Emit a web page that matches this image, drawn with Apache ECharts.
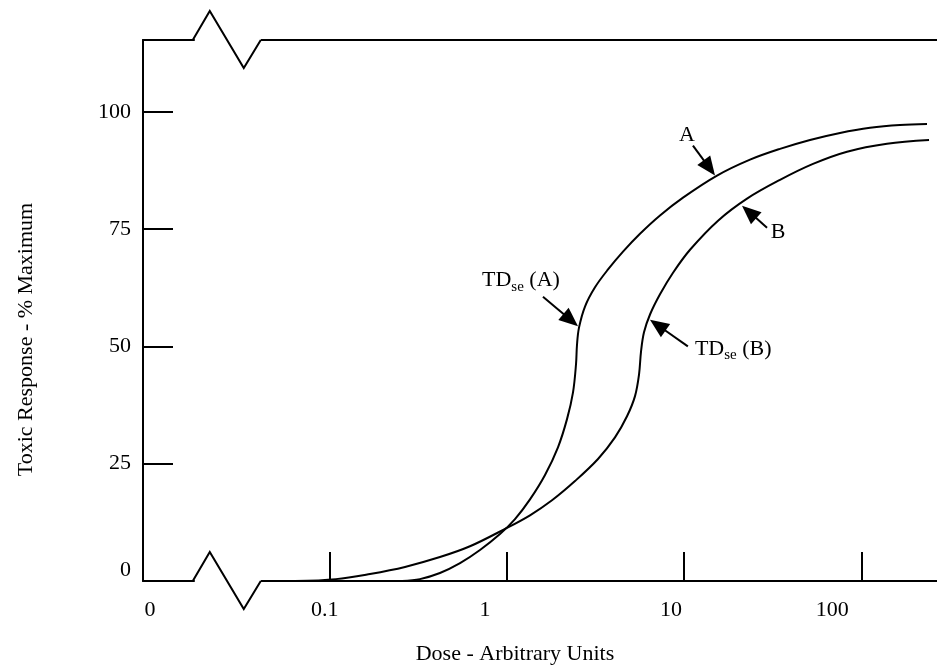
<!DOCTYPE html>
<html><head><meta charset="utf-8">
<script src="https://cdn.jsdelivr.net/npm/echarts@6/dist/echarts.min.js"></script>
<style>html,body{margin:0;padding:0;background:#fff}#c{width:937px;height:670px}</style>
</head><body><div id="c"></div>
<script>
// ---- data ----
const doseA = [0.256,0.323,0.419,0.544,0.705,0.914,1.111,1.35,1.641,1.942,2.184,2.361,2.455,2.487,2.552,2.759,3.142,3.721,4.521,5.638,7.311,9.86,15.34,23.55,34.77,51.34,75.83,112.0,165.3,234.9];
const respA = [0,0.4,1.7,3.8,6.6,10.0,13.2,17.4,22.6,28.5,34.5,40.2,46.2,50.4,54.0,58.5,62.6,66.4,70.2,74.0,77.9,81.7,86.4,89.8,92.1,94.0,95.5,96.6,97.2,97.4];
const doseB = [0.0637,0.1085,0.1688,0.266,0.419,0.619,0.976,1.35,1.797,2.423,3.267,4.074,4.762,5.284,5.567,5.713,5.938,6.421,7.311,8.659,10.8,15.54,22.65,34.77,53.4,83.07,139.6,241.1];
const respB = [0,0.4,1.5,3.0,5.1,7.4,11.1,14.0,17.2,21.3,26.0,30.6,35.1,39.4,44.0,48.9,53.0,56.8,61.1,65.7,70.6,76.8,81.5,85.5,88.9,91.5,93.2,94.0];
const xTickValues = [0.1, 1, 10, 100];
const xTickLabels = ['0.1', '1', '10', '100'];
const yTickValues = [0, 25, 50, 75, 100];
const xMin = 0.00884, xMax = 267.4, yMax = 115.3;
const breakDose = 0.0171;
// annotations: label position, arrow tail, arrow tip (dose, response)
const annLabels = ['A', 'B', 'TD(A)', 'TD(B)'];
const annLabelPos = [[10.38, 95.1], [33.88, 74.3], [0.7236, 64.0], [11.51, 49.4]];
const annTail = [[11.22, 92.8], [29.37, 75.3], [1.598, 60.6], [10.50, 50.0]];
const annTip = [[14.94, 86.4], [21.22, 80.0], [2.519, 54.3], [6.42, 55.7]];

const FONT = "'Liberation Serif','Times New Roman',serif";
const chart = echarts.init(document.getElementById('c'), null, {renderer: 'canvas'});
const zip = (xs, ys) => xs.map((x, i) => [x, ys[i]]);

const labelRich = {
  z: {fontFamily: FONT, fontSize: 22, color: '#000', padding: [0, 0, 0, 14]},
  a: {fontFamily: FONT, fontSize: 22, color: '#000', padding: [0, 10, 0, 0]},
  b: {fontFamily: FONT, fontSize: 22, color: '#000', padding: [0, 44, 0, 0]},
  c: {fontFamily: FONT, fontSize: 22, color: '#000', padding: [0, 26, 0, 0]},
  d: {fontFamily: FONT, fontSize: 22, color: '#000', padding: [0, 58, 0, 0]}
};
const styleKeys = ['a', 'b', 'c', 'd'];

chart.setOption({
  animation: false,
  backgroundColor: '#fff',
  grid: {left: 143, right: 0, top: 40, bottom: 88},
  xAxis: [{
    type: 'log', min: xMin, max: xMax, position: 'bottom',
    name: 'Dose - Arbitrary Units', nameLocation: 'middle', nameGap: 62,
    nameTextStyle: {fontFamily: FONT, fontSize: 22, color: '#000', padding: [0, 50, 0, 0]},
    axisLine: {show: true, lineStyle: {color: '#000', width: 2}},
    axisTick: {show: true, inside: true, length: 29, lineStyle: {color: '#000', width: 2}, customValues: xTickValues},
    axisLabel: {
      show: true, margin: 18, customValues: [xMin].concat(xTickValues),
      formatter: function (v) {
        if (v < 0.05) return '{z|0}';
        for (let i = 0; i < xTickValues.length; i++) {
          if (Math.abs(v - xTickValues[i]) / xTickValues[i] < 1e-6) return '{' + styleKeys[i] + '|' + xTickLabels[i] + '}';
        }
        return '';
      },
      rich: labelRich
    },
    splitLine: {show: false}
  }, {
    type: 'log', min: xMin, max: xMax, position: 'top',
    axisLine: {show: true, lineStyle: {color: '#000', width: 2}},
    axisTick: {show: false}, axisLabel: {show: false}, splitLine: {show: false}
  }],
  yAxis: {
    type: 'value', min: 0, max: yMax,
    name: 'Toxic Response - % Maximum', nameLocation: 'middle', nameGap: 106,
    nameTextStyle: {fontFamily: FONT, fontSize: 22, color: '#000', padding: [0, 58, 0, 0]},
    axisLine: {show: true, lineStyle: {color: '#000', width: 2}},
    axisTick: {show: true, inside: true, length: 30, lineStyle: {color: '#000', width: 2}, customValues: yTickValues},
    axisLabel: {
      show: true, margin: 12, customValues: yTickValues,
      formatter: function (v) { return v === 0 ? '{z|0}' : '{n|' + v + '}'; },
      rich: {
        z: {fontFamily: FONT, fontSize: 22, color: '#000', padding: [0, 0, 22, 0]},
        n: {fontFamily: FONT, fontSize: 22, color: '#000'}
      }
    },
    splitLine: {show: false}
  },
  series: [{
    name: 'A', type: 'line', data: zip(doseA, respA), showSymbol: false, smooth: 0.35,
    lineStyle: {color: '#000', width: 2}, z: 3
  }, {
    name: 'B', type: 'line', data: zip(doseB, respB), showSymbol: false, smooth: 0.35,
    lineStyle: {color: '#000', width: 2}, z: 3
  }]
});

// ---- decorations: axis breaks, arrows and labels ----
function px(p) { return chart.convertToPixel({xAxisIndex: 0, yAxisIndex: 0}, p); }
function arrow(t, p) {
  const dx = p[0] - t[0], dy = p[1] - t[1], L = Math.hypot(dx, dy), ux = dx / L, uy = dy / L;
  const hl = 19, hw = 8;
  const bx = p[0] - ux * hl, by = p[1] - uy * hl;
  return [
    {type: 'line', z: 10, shape: {x1: t[0], y1: t[1], x2: bx + ux * 2, y2: by + uy * 2}, style: {stroke: '#000', lineWidth: 2}},
    {type: 'polygon', z: 10, shape: {points: [[p[0], p[1]], [bx - uy * hw, by + ux * hw], [bx + uy * hw, by - ux * hw]]}, style: {fill: '#000'}}
  ];
}
const g = [];
const bx0 = px([breakDose, 0])[0];
const yBot = px([1, 0])[1], yTop = px([1, yMax])[1];
[yBot, yTop].forEach(function (yy) {
  g.push({type: 'rect', z: 9, shape: {x: bx0 + 1, y: yy - 4, width: 66, height: 8}, style: {fill: '#fff'}});
  g.push({type: 'polyline', z: 10, shape: {points: [[bx0 - 1, yy], [bx0 + 16, yy - 29], [bx0 + 50, yy + 28], [bx0 + 67, yy]]}, style: {stroke: '#000', lineWidth: 2, fill: null}});
});
for (let i = 0; i < annLabels.length; i++) {
  const t = px(annTail[i]), p = px(annTip[i]), l = px(annLabelPos[i]);
  arrow(t, p).forEach(e => g.push(e));
  const lab = annLabels[i];
  if (lab.indexOf('TD') === 0) {
    const inner = lab.slice(3, 4);
    g.push({type: 'text', z: 10, x: l[0], y: l[1], style: {
      text: '{m|TD}{s|se}{m| (' + inner + ')}', align: 'left', verticalAlign: 'middle',
      rich: {
        m: {fontFamily: FONT, fontSize: 22, fill: '#000', color: '#000', verticalAlign: 'middle'},
        s: {fontFamily: FONT, fontSize: 15, fill: '#000', color: '#000', padding: [12, 0, 0, 0], verticalAlign: 'middle'}
      }
    }});
  } else {
    g.push({type: 'text', z: 10, x: l[0], y: l[1], style: {text: lab, fontFamily: FONT, fontSize: 22, fill: '#000', align: 'center', verticalAlign: 'middle'}});
  }
}
chart.setOption({graphic: g});
</script>
</body></html>
